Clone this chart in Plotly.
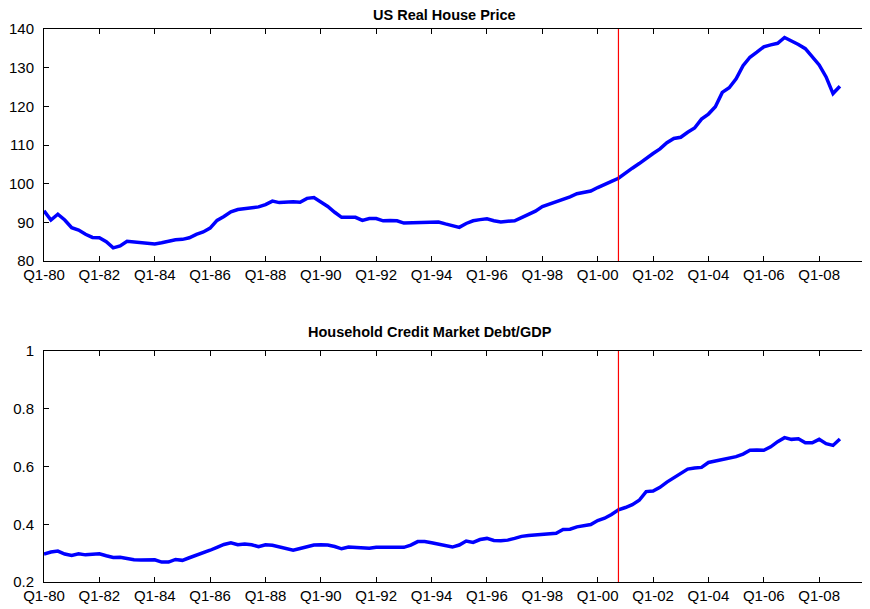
import plotly.graph_objects as go
from plotly.subplots import make_subplots

# Quarterly labels Q1-80 ... Q4-08
quarters = [f"Q{q}-{y % 100:02d}" for y in range(1980, 2009) for q in range(1, 5)]

house_price = [
    93.0, 90.6, 92.1, 90.6, 88.6, 88.0, 86.9, 86.1,
    86.0, 85.0, 83.4, 83.9, 85.1, 84.9, 84.8, 84.7,
    84.4, 84.7, 85.1, 85.5, 85.6, 86.0, 86.9, 87.5,
    88.5, 90.5, 91.5, 92.7, 93.3, 93.6, 93.8, 94.0,
    94.6, 95.5, 95.1, 95.3, 95.3, 95.2, 96.2, 96.4,
    95.2, 94.1, 92.6, 91.3, 91.3, 91.3, 90.5, 91.0,
    91.0, 90.4, 90.5, 90.4, 89.8, 89.9, 90.0, 90.1,
    90.2, 90.1, 89.6, 89.1, 88.7, 89.7, 90.4, 90.7,
    90.9, 90.4, 90.1, 90.3, 90.4, 91.2, 92.1, 92.9,
    94.1, 94.7, 95.5, 96.1, 96.6, 97.4, 97.8, 98.1,
    99.0, 99.9, 100.6, 101.4, 102.8, 104.0, 105.2, 106.6,
    107.8, 109.0, 110.6, 111.7, 112.0, 113.3, 114.4, 116.7,
    118.0, 119.9, 123.6, 124.8, 127.1, 130.5, 132.7, 134.0,
    135.4, 135.9, 136.3, 137.8, 137.0, 136.0, 134.9, 132.9,
    130.7, 127.6, 123.3, 125.2,
]

debt_gdp = [
    0.297, 0.304, 0.307, 0.297, 0.292, 0.298, 0.294, 0.297,
    0.298, 0.291, 0.285, 0.286, 0.281, 0.277, 0.276, 0.276,
    0.277, 0.269, 0.269, 0.278, 0.275, 0.284, 0.292, 0.301,
    0.310, 0.320, 0.330, 0.336, 0.329, 0.332, 0.329, 0.322,
    0.329, 0.327, 0.321, 0.315, 0.310, 0.316, 0.321, 0.328,
    0.329, 0.328, 0.323, 0.315, 0.321, 0.319, 0.316, 0.317,
    0.320, 0.319, 0.319, 0.320, 0.320, 0.328, 0.340, 0.340,
    0.336, 0.332, 0.327, 0.321, 0.328, 0.342, 0.337, 0.347,
    0.351, 0.344, 0.343, 0.345, 0.351, 0.358, 0.361, 0.363,
    0.366, 0.368, 0.369, 0.382, 0.383, 0.391, 0.396, 0.399,
    0.413, 0.421, 0.434, 0.450, 0.458, 0.468, 0.483, 0.513,
    0.515, 0.528, 0.546, 0.560, 0.576, 0.591, 0.595, 0.597,
    0.614, 0.619, 0.624, 0.627, 0.634, 0.643, 0.656, 0.657,
    0.656, 0.668, 0.686, 0.700, 0.694, 0.696, 0.682, 0.682,
    0.694, 0.679, 0.673, 0.695,
]

x_tick_labels = quarters[::8]
top_y_ticks = [80, 90, 100, 110, 120, 130, 140]
bottom_y_ticks = [0.2, 0.4, 0.6, 0.8, 1]
bottom_y_tick_text = ["0.2", "0.4", "0.6", "0.8", "1"]
break_quarter = "Q4-00"
titles = ["US Real House Price", "Household Credit Market Debt/GDP"]

idx = list(range(len(quarters)))
tick_idx = [quarters.index(t) for t in x_tick_labels]
break_idx = quarters.index(break_quarter)

OFF = 8  # page body margin
W, H = 870 - OFF, 609 - OFF
ml, mr, mt, mb = 44 - OFF, 1, 29 - OFF, 27
plot_h = H - mt - mb
plot_w = W - ml - mr


def py(page_y):
    return (H - mb - (page_y - OFF)) / plot_h


def px(page_x):
    return (page_x - OFF - ml) / plot_w


top_dom = [py(261), 1.0]
bot_dom = [0.0, py(351)]

fig = make_subplots(rows=2, cols=1)
fig.add_trace(go.Scatter(x=idx, y=house_price, mode="lines",
                         line=dict(color="#0000FF", width=3.5), showlegend=False), row=1, col=1)
fig.add_trace(go.Scatter(x=idx, y=debt_gdp, mode="lines",
                         line=dict(color="#0000FF", width=3.5), showlegend=False), row=2, col=1)

font = dict(family="Liberation Sans, Arial, sans-serif", size=15, color="black")
xr = [0, 119.2]
common_x = dict(range=xr, tickmode="array", tickvals=tick_idx, ticktext=x_tick_labels,
                ticks="inside", ticklen=5, tickcolor="black", showline=True, linecolor="black",
                linewidth=1, mirror="ticks", showgrid=False, zeroline=False, tickfont=font,
                automargin=False, ticklabelstandoff=0)
common_y = dict(ticks="inside", ticklen=5, tickcolor="black", showline=True, linecolor="black",
                linewidth=1, mirror="ticks", showgrid=False, zeroline=False, tickfont=font,
                ticklabelstandoff=6, automargin=False)

fig.update_xaxes(**common_x, domain=[0, 1], row=1, col=1)
fig.update_xaxes(**common_x, domain=[0, 1], row=2, col=1)
fig.update_yaxes(**common_y, range=[80, 140], tickvals=top_y_ticks, domain=top_dom, row=1, col=1)
fig.update_yaxes(**common_y, range=[0.2, 1], tickvals=bottom_y_ticks, ticktext=bottom_y_tick_text,
                 domain=bot_dom, row=2, col=1)

# red vertical break line in both panels
for xref, yref in [("x", "y domain"), ("x2", "y2 domain")]:
    fig.add_shape(type="line", x0=break_idx, x1=break_idx, y0=0, y1=1,
                  xref=xref, yref=yref, line=dict(color="#FF0000", width=1.2))

title_font = dict(family="Liberation Sans, Arial, sans-serif", size=14.5, color="black")
fig.add_annotation(text=f"<b>{titles[0]}</b>", x=px(444), y=py(15),
                   xref="paper", yref="paper", showarrow=False, font=title_font,
                   xanchor="center", yanchor="middle")
fig.add_annotation(text=f"<b>{titles[1]}</b>", x=px(430), y=py(332),
                   xref="paper", yref="paper", showarrow=False, font=title_font,
                   xanchor="center", yanchor="middle")

fig.update_layout(width=W, height=H, margin=dict(l=ml, r=mr, t=mt, b=mb, autoexpand=False),
                  paper_bgcolor="white", plot_bgcolor="white", showlegend=False)

fig.write_html("out.html")
